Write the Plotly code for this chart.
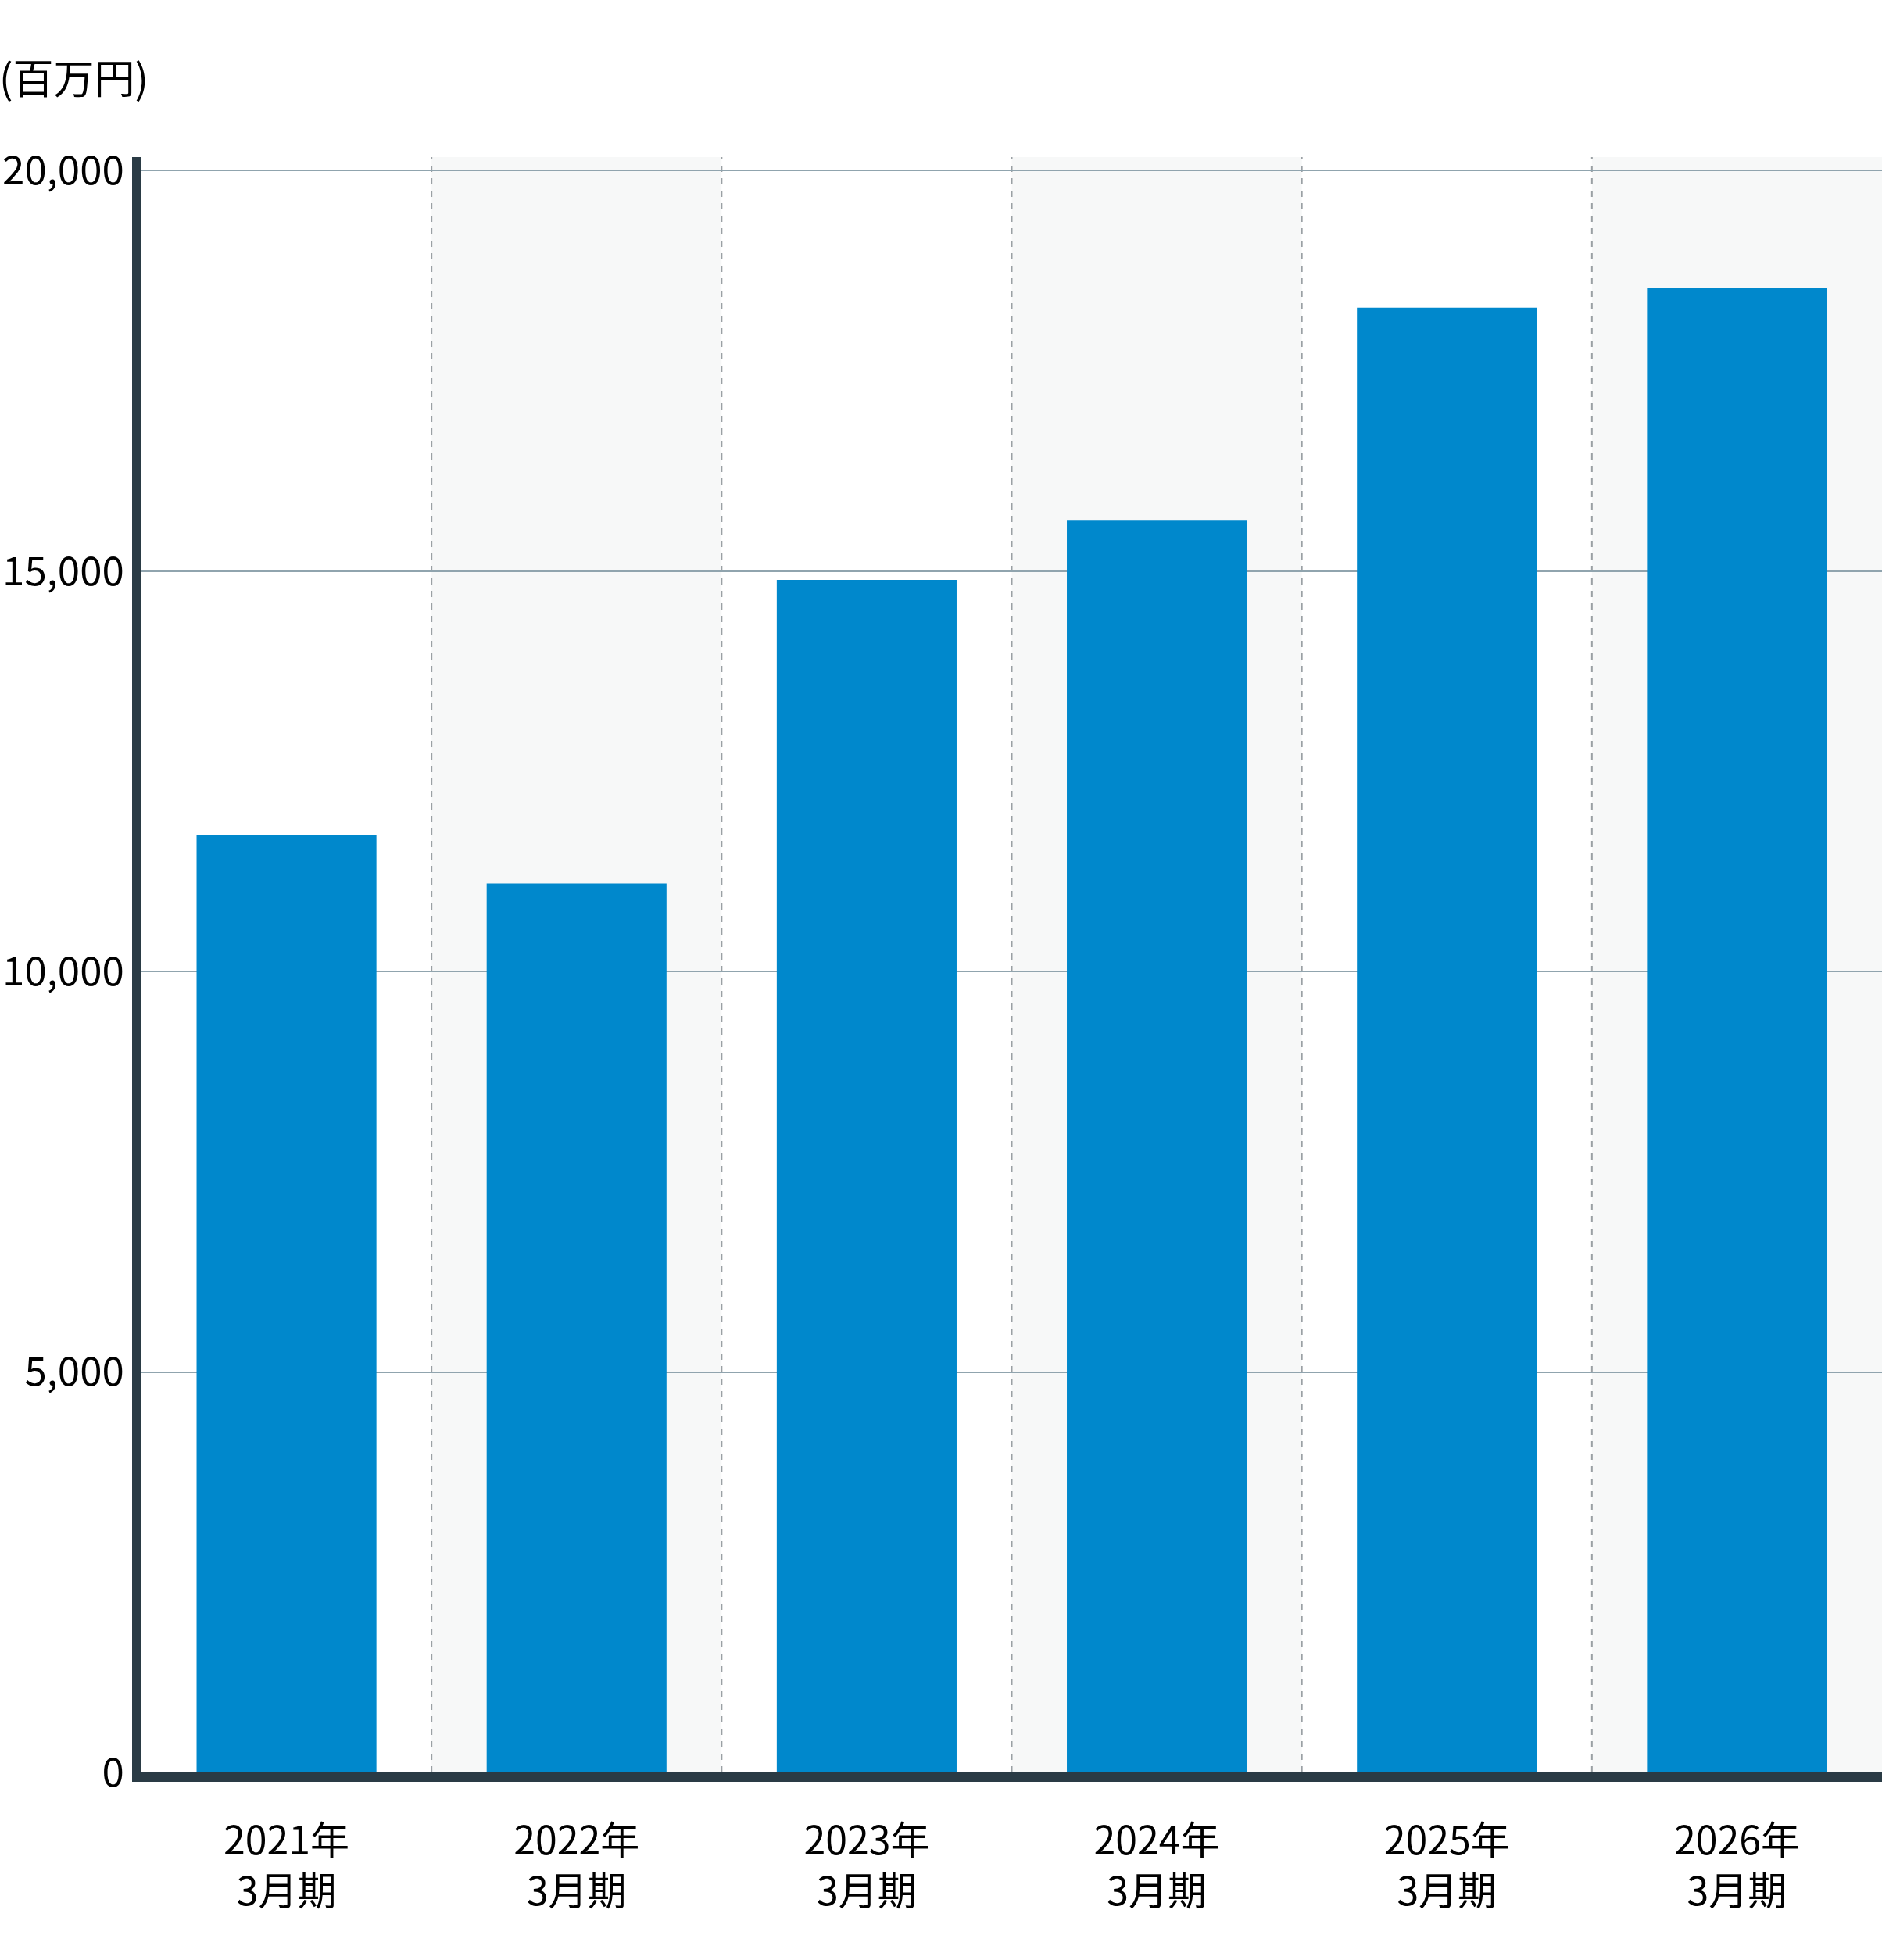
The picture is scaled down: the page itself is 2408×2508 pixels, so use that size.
import plotly.graph_objects as go

categories = ["2021年<br>3月期", "2022年<br>3月期", "2023年<br>3月期",
              "2024年<br>3月期", "2025年<br>3月期", "2026年<br>3月期"]
values = [11710, 11100, 14890, 15630, 18290, 18540]
y_tickvals = [0, 5000, 10000, 15000, 20000]
y_ticktext = ["0", "5,000", "10,000", "15,000", "20,000"]
unit_label = "(百万円)"

FONT = "Noto Sans CJK JP"
BAR = "#0088cc"
AXIS = "#2a3b45"
GRID = "#90a4ae"
SHADE = "#f7f8f8"
DASH = "#9aa0a4"

fig = go.Figure()
fig.add_trace(go.Bar(
    x=list(range(len(categories))), y=values,
    marker=dict(color=BAR, line=dict(width=0)),
    width=0.62, hoverinfo="skip",
))

shapes = []
n = len(categories)
for i in range(n):
    if i % 2 == 1:
        shapes.append(dict(type="rect", xref="x", yref="paper",
                           x0=i - 0.5, x1=i + 0.5, y0=0, y1=1,
                           fillcolor=SHADE, line=dict(width=0), layer="below"))
for i in range(n - 1):
    shapes.append(dict(type="line", xref="x", yref="paper",
                       x0=i + 0.5, x1=i + 0.5, y0=0, y1=1,
                       line=dict(color=DASH, width=2, dash="8px,8px"), layer="below"))

fig.update_layout(
    width=2408, height=2508,
    margin=dict(l=181, r=0, t=201, b=240, pad=0, autoexpand=False),
    paper_bgcolor="white", plot_bgcolor="white",
    showlegend=False,
    font=dict(family=FONT, size=50, color="black"),
    shapes=shapes,
    annotations=[dict(
        text=unit_label, xref="paper", yref="paper",
        x=-184 / 2227, y=1.0503, xanchor="left", yanchor="middle",
        showarrow=False, font=dict(family=FONT, size=52, color="black"),
    )],
)
fig.update_xaxes(
    range=[-0.5, n - 0.5],
    tickmode="array", tickvals=list(range(n)), ticktext=categories,
    showline=True, linewidth=12, linecolor=AXIS,
    showgrid=False, zeroline=False, ticks="",
    tickfont=dict(family=FONT, size=50, color="black"),
    ticklabelstandoff=33,
)
fig.update_yaxes(
    range=[0, 20170],
    tickmode="array", tickvals=y_tickvals, ticktext=y_ticktext,
    showline=True, linewidth=12, linecolor=AXIS,
    showgrid=True, gridcolor=GRID, gridwidth=2,
    zeroline=False, ticks="",
    tickfont=dict(family=FONT, size=51, color="black"),
    ticklabelstandoff=0,
)

fig.write_html("out.html")
